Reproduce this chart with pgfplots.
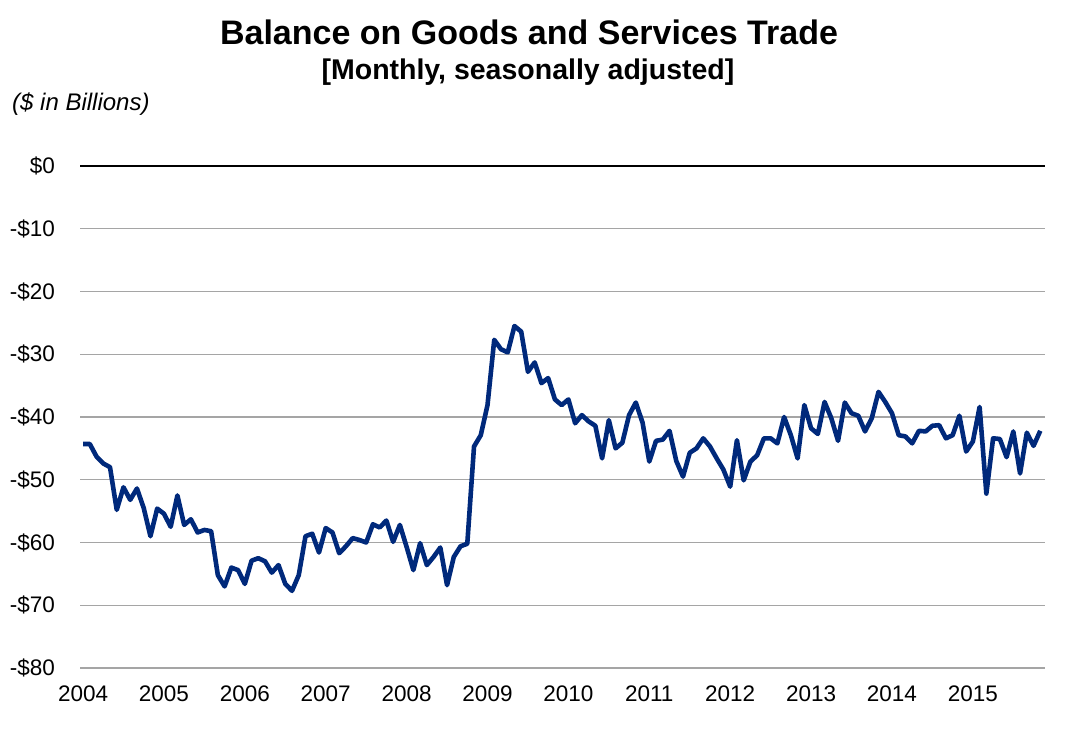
\documentclass[border=0pt]{standalone}
\usepackage{pgfplots}
\pgfplotsset{compat=1.18}
\usepackage{fontspec}
\setmainfont{Liberation Sans}
\definecolor{navy}{RGB}{0,41,123}
\definecolor{gridgray}{RGB}{165,165,165}
\pgfplotstableread{
m v
0 -44.3
1 -44.3
2 -46.3
3 -47.4
4 -48.0
5 -54.8
6 -51.2
7 -53.2
8 -51.4
9 -54.5
10 -59.0
11 -54.6
12 -55.4
13 -57.5
14 -52.5
15 -57.2
16 -56.3
17 -58.4
18 -58.0
19 -58.2
20 -65.2
21 -67.0
22 -64.0
23 -64.4
24 -66.6
25 -62.9
26 -62.5
27 -63.0
28 -64.8
29 -63.6
30 -66.6
31 -67.7
32 -65.2
33 -59.0
34 -58.6
35 -61.6
36 -57.7
37 -58.4
38 -61.7
39 -60.6
40 -59.3
41 -59.6
42 -60.0
43 -57.1
44 -57.6
45 -56.5
46 -59.9
47 -57.2
48 -60.7
49 -64.4
50 -60.1
51 -63.6
52 -62.3
53 -60.8
54 -66.8
55 -62.3
56 -60.6
57 -60.2
58 -44.7
59 -42.9
60 -38.1
61 -27.7
62 -29.2
63 -29.7
64 -25.5
65 -26.4
66 -32.8
67 -31.3
68 -34.6
69 -33.8
70 -37.2
71 -38.1
72 -37.2
73 -41.0
74 -39.7
75 -40.7
76 -41.4
77 -46.6
78 -40.5
79 -45.0
80 -44.1
81 -39.7
82 -37.7
83 -40.9
84 -47.1
85 -43.8
86 -43.6
87 -42.2
88 -47.0
89 -49.5
90 -45.7
91 -45.0
92 -43.4
93 -44.7
94 -46.6
95 -48.4
96 -51.1
97 -43.7
98 -50.1
99 -47.1
100 -46.1
101 -43.4
102 -43.4
103 -44.2
104 -40.0
105 -42.9
106 -46.6
107 -38.1
108 -41.8
109 -42.7
110 -37.6
111 -40.2
112 -43.8
113 -37.7
114 -39.4
115 -39.8
116 -42.3
117 -40.2
118 -36.0
119 -37.6
120 -39.4
121 -42.9
122 -43.1
123 -44.2
124 -42.2
125 -42.3
126 -41.4
127 -41.3
128 -43.4
129 -42.9
130 -39.8
131 -45.5
132 -43.9
133 -38.4
134 -52.2
135 -43.4
136 -43.5
137 -46.4
138 -42.3
139 -49.0
140 -42.5
141 -44.6
142 -42.2
}\tradedata
\begin{document}
\begin{tikzpicture}
\path[use as bounding box] (0pt,0pt) rectangle (1084pt,739pt);
\begin{axis}[
  at={(80pt,71pt)}, anchor=south west,
  scale only axis,
  width=965pt, height=502pt,
  xmin=-0.45, xmax=142.7,
  ymin=-80, ymax=0,
  axis line style={draw=none},
  clip=false,
  major tick length=0pt,
  ytick={-80,-70,...,0},
  yticklabels={-\$80,-\$70,-\$60,-\$50,-\$40,-\$30,-\$20,-\$10,\$0},
  xtick={0,12,...,132},
  xticklabels={2004,2005,2006,2007,2008,2009,2010,2011,2012,2013,2014,2015},
  ymajorgrids,
  grid style={gridgray, line width=1.1pt},
  yticklabel style={font=\fontsize{22.5}{26}\selectfont, anchor=east, inner sep=0pt, xshift=-25pt},
  xticklabel style={font=\fontsize{22.5}{26}\selectfont, anchor=north, inner sep=0pt, yshift=-18pt},
]
\addplot[navy, line width=4.6pt, line join=round] table[x=m, y=v] {\tradedata};
\draw[black, line width=2pt] (rel axis cs:0,1) -- (rel axis cs:1,1);
\end{axis}
\node[font=\bfseries\fontsize{34}{38}\selectfont, inner sep=0pt] at (529pt,707pt) {Balance on Goods and Services Trade};
\node[font=\bfseries\fontsize{28.5}{32}\selectfont, inner sep=0pt] at (528pt,667pt) {[Monthly, seasonally adjusted]};
\node[font=\itshape\fontsize{24}{28}\selectfont, inner sep=0pt, anchor=west] at (12pt,635pt) {(\$ in Billions)};
\end{tikzpicture}
\end{document}
